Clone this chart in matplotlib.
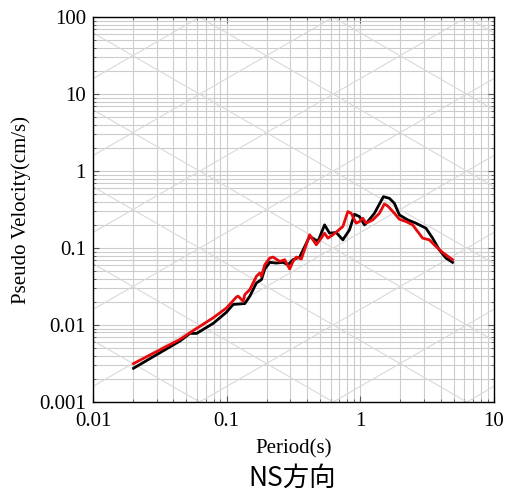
import numpy as np
import matplotlib
matplotlib.use('Agg')
import matplotlib.pyplot as plt
from matplotlib.ticker import FixedLocator, LogLocator, NullFormatter

# Spectrum data (period in s, pseudo velocity in cm/s)
black_T = [0.0201, 0.0448, 0.0532, 0.0597, 0.0794, 0.1, 0.112, 0.137, 0.1493,
           0.1673, 0.1824, 0.1932, 0.2105, 0.236, 0.2646, 0.2884, 0.3143,
           0.3524, 0.4183, 0.483, 0.5415, 0.59, 0.6617, 0.742, 0.832, 0.907,
           0.988, 1.077, 1.14, 1.279, 1.492, 1.655, 1.803, 1.965, 2.268,
           2.616, 3.107, 3.483, 3.907, 4.381, 4.913]
black_SV = [0.00274, 0.0062, 0.00778, 0.00778, 0.0105, 0.0147, 0.0185, 0.019,
            0.0237, 0.0352, 0.0389, 0.0534, 0.0652, 0.0639, 0.0652, 0.0608,
            0.0706, 0.0764, 0.1414, 0.1218, 0.2001, 0.1562, 0.1593, 0.128,
            0.1725, 0.2751, 0.2566, 0.2001, 0.2211, 0.2834, 0.4656, 0.4431,
            0.3817, 0.2697, 0.2323, 0.2104, 0.1813, 0.1346, 0.095, 0.0742,
            0.0652]

red_T = [0.0201, 0.0448, 0.0532, 0.0794, 0.1, 0.1187, 0.1221, 0.1331, 0.137,
         0.1493, 0.1673, 0.1772, 0.1824, 0.1932, 0.2105, 0.2228, 0.25, 0.2723,
         0.2968, 0.3143, 0.333, 0.3627, 0.4183, 0.4693, 0.5113, 0.5415,
         0.5733, 0.6248, 0.742, 0.8087, 0.856, 0.933, 0.988, 1.046, 1.108,
         1.243, 1.393, 1.518, 1.608, 1.803, 1.965, 2.203, 2.47, 2.934, 3.29,
         3.69, 4.137, 4.913]
red_SV = [0.00315, 0.00651, 0.00794, 0.0124, 0.0167, 0.0232, 0.0237, 0.0204,
          0.0249, 0.0289, 0.043, 0.0474, 0.043, 0.0608, 0.0742, 0.0764,
          0.0671, 0.0706, 0.0534, 0.0671, 0.0764, 0.072, 0.1486, 0.1103,
          0.1346, 0.1562, 0.1346, 0.1486, 0.1905, 0.2978, 0.2834, 0.2104,
          0.2211, 0.2442, 0.2104, 0.2323, 0.2834, 0.3742, 0.3525, 0.2834,
          0.237, 0.2211, 0.2001, 0.1346, 0.128, 0.105, 0.0878, 0.0706]

x_ticks = [0.01, 0.1, 1, 10]
x_labels = ['0.01', '0.1', '1', '10']
y_ticks = [0.001, 0.01, 0.1, 1, 10, 100]
y_labels = ['0.001', '0.01', '0.1', '1', '10', '100']

# tripartite guide lines: displacement (cm) and acceleration (cm/s^2) decades
sd_levels = [10.0 ** k for k in range(-7, 5)]
sa_levels = [10.0 ** k for k in range(-3, 8)]

serif = 'Liberation Serif'
grid_col = '#cccccc'
diag_col = '#d9d9d9'

fig = plt.figure(figsize=(5.08, 4.92), dpi=100)
ax = fig.add_axes([0.183, 0.183, 0.789, 0.782])
ax.set_xscale('log')
ax.set_yscale('log')
ax.set_xlim(0.01, 10)
ax.set_ylim(0.001, 100)

# diagonal lines
T_line = np.array([0.001, 100.0])
for sd in sd_levels:
    ax.plot(T_line, 2 * np.pi * sd / T_line, color=diag_col, lw=0.8, zorder=1)
for sa in sa_levels:
    ax.plot(T_line, sa * T_line / (2 * np.pi), color=diag_col, lw=0.8, zorder=1)

ax.xaxis.set_major_locator(FixedLocator(x_ticks))
ax.xaxis.set_minor_locator(LogLocator(base=10, subs=np.arange(2, 10)))
ax.xaxis.set_minor_formatter(NullFormatter())
ax.set_xticklabels(x_labels)
ax.yaxis.set_major_locator(FixedLocator(y_ticks))
ax.yaxis.set_minor_locator(LogLocator(base=10, subs=np.arange(2, 10)))
ax.yaxis.set_minor_formatter(NullFormatter())
ax.set_yticklabels(y_labels)

ax.grid(True, which='both', color=grid_col, lw=0.8, zorder=1)
ax.set_axisbelow(True)

ax.plot(black_T, black_SV, color='black', lw=2.0, zorder=3)
ax.plot(red_T, red_SV, color='#e8090c', lw=2.0, zorder=4)

ax.tick_params(which='both', direction='in', top=True, right=True,
               color='#555555')
ax.tick_params(which='major', length=4, labelsize=15)
ax.tick_params(axis='x', which='major', pad=7)
ax.tick_params(axis='y', which='major', pad=5)
ax.tick_params(which='minor', length=2)
for lab in ax.get_xticklabels() + ax.get_yticklabels():
    lab.set_fontfamily(serif)
for sp in ax.spines.values():
    sp.set_linewidth(1.0)

ax.set_xlabel('Period(s)', fontfamily=serif, fontsize=15, va='center')
ax.xaxis.set_label_coords(0.5, -(449 - 402) / 385)
ax.set_ylabel('Pseudo Velocity(cm/s)', fontfamily=serif, fontsize=15,
              va='center')
ax.yaxis.set_label_coords(-(93 - 21) / 401, 0.5)
fig.text(0.576, 1 - 478 / 492, 'NS方向', ha='center', va='center',
         fontsize=19, family=['Noto Sans CJK JP', 'DejaVu Sans'])

fig.savefig('out.png', dpi=100)
